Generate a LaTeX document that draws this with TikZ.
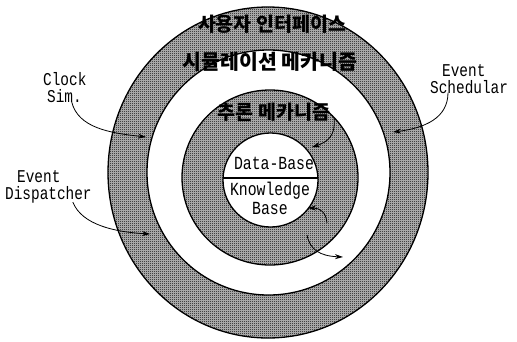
\documentclass[tikz,border=0pt]{standalone}
\usepackage{fontspec}
\newfontfamily\kor{Noto Sans CJK KR}
\newfontfamily\mono[FakeStretch=0.8]{Liberation Mono}
\usetikzlibrary{shapes.geometric,patterns.meta,arrows.meta}
\pgfdeclarepattern{name=dither, type=uncolored,
  bottom left={\pgfpoint{0pt}{0pt}}, top right={\pgfpoint{2pt}{2pt}},
  tile size={\pgfpoint{2pt}{2pt}},
  code={\pgfpathrectangle{\pgfpoint{0pt}{0pt}}{\pgfpoint{1pt}{1pt}}
        \pgfpathrectangle{\pgfpoint{1pt}{1pt}}{\pgfpoint{1pt}{1pt}}
        \pgfusepath{fill}}}
\tikzset{
  ring/.style={ellipse, draw=black, line width=1.3pt, inner sep=0pt, outer sep=0pt,
    preaction={fill=black!25}, pattern=dither},
  hole/.style={ellipse, draw=black, line width=1.3pt, inner sep=0pt, outer sep=0pt, fill=white},
  kortext/.style={font=\kor\bfseries\fontsize{19.5}{19.5}\selectfont, inner sep=0pt},
  lbl/.style={font=\mono\fontsize{18.5}{19}\selectfont, inner sep=0pt},
  side/.style={font=\mono\fontsize{18}{17}\selectfont, inner sep=0pt, align=left},
  arr/.style={line width=0.8pt, -{Stealth[length=8pt,width=5pt]}}
}
\begin{document}
\begin{tikzpicture}[x=1pt,y=-1pt]
\useasboundingbox[fill=white] (0,0) rectangle (517,341);
% rings
\node[ring, minimum width=320pt, minimum height=331pt] (outer) at (268,172.5) {};
\node[hole, minimum width=243pt, minimum height=245pt] (gap) at (268.5,172.5) {};
\node[ring, minimum width=176pt, minimum height=175pt] (mid) at (270,177.5) {};
\node[hole, minimum width=95pt, minimum height=94pt] (core) at (270.5,180) {};
\draw[line width=1.1pt] (core.west |- 0,178) -- (core.east |- 0,178);
% ring texts
\node[kortext] (ui) at (272,24) {사용자 인터페이스};
\node[kortext, font=\kor\bfseries\fontsize{20.5}{20.5}\selectfont] (sim) at (270,62) {시뮬레이션 메카니즘};
\node[kortext] (inf) at (274,112) {추론 메카니즘};
% core texts
\node[lbl, anchor=base] (db) at (274,169) {Data-Base};
\node[lbl, align=center, anchor=north] (kb) at (270,182) {Knowledge\\Base};
% side labels
\node[side, anchor=north west] (clk) at (43,72) {Clock\\\hspace*{4pt}Sim.};
\node[side, anchor=north west] (es) at (430,64) {\hspace*{12pt}Event\\Schedular};
\node[side, anchor=north west] (ed) at (5,170) {\hspace*{12pt}Event\\Dispatcher};
% arrow ends
\coordinate (tclk) at (146,137);
\coordinate (tes) at (393,132);
\coordinate (ted) at (150,234);
\coordinate (s4) at (334,118);
\coordinate (t4) at (312,147);
\coordinate (s5) at (327,223);
\coordinate (t5) at (308,208);
\coordinate (s6) at (307,235);
\coordinate (t6) at (343,257);
% arrows
\draw[arr] ([xshift=-15pt,yshift=1pt]clk.south east) .. controls (78,128) and (110,133) .. (tclk);
\draw[arr] ([xshift=18pt,yshift=1pt]es.south west) .. controls (448,118) and (425,128) .. (tes);
\draw[arr] ([xshift=-19pt,yshift=1pt]ed.south east) .. controls (82,225) and (115,232) .. (ted);
\draw[arr] (s4) .. controls (336,135) and (328,142) .. (t4);
\draw[arr] (s5) .. controls (326,212) and (320,208) .. (t5);
\draw[arr] (s6) .. controls (310,250) and (320,256) .. (t6);
\end{tikzpicture}
\end{document}
